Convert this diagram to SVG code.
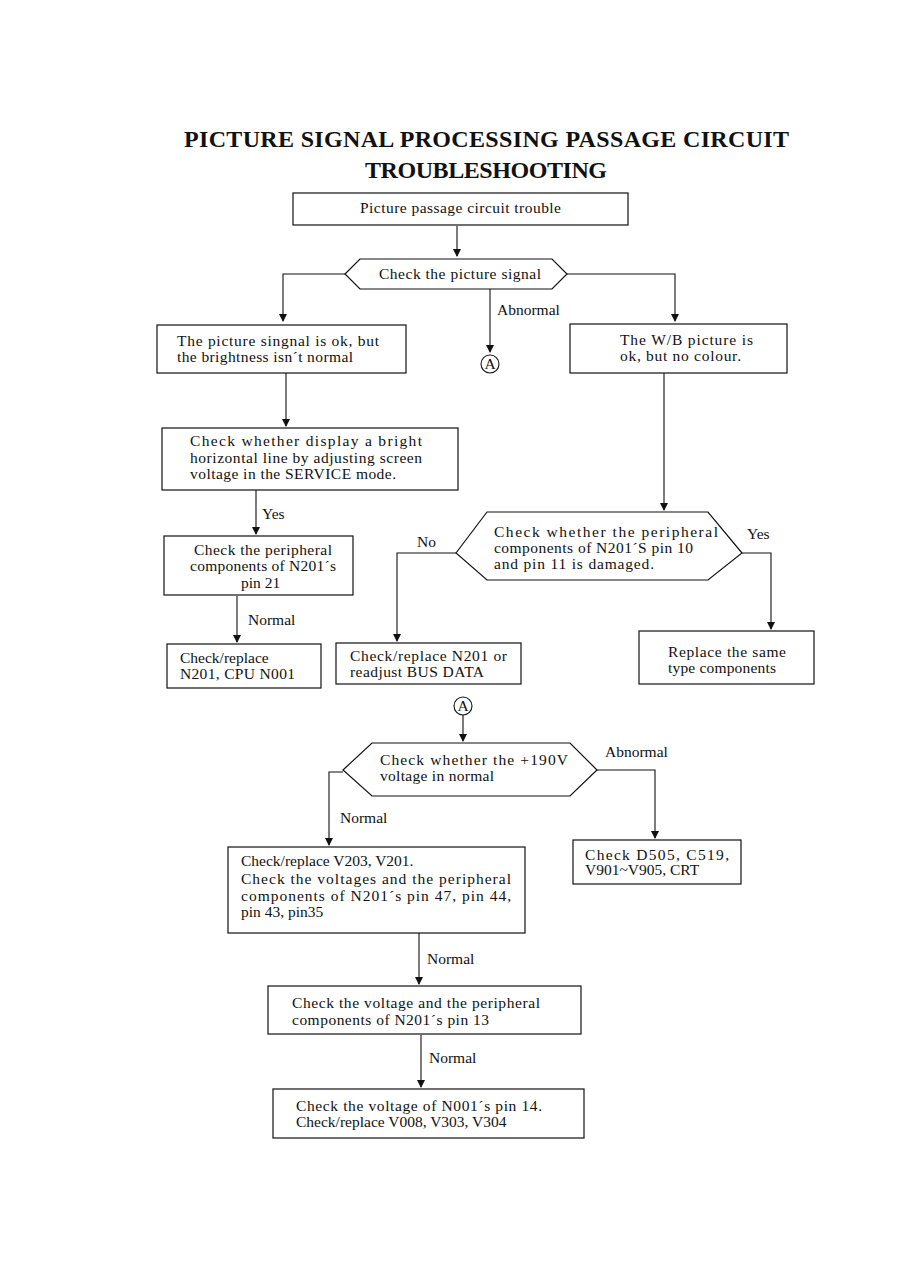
<svg xmlns="http://www.w3.org/2000/svg" width="899" height="1263" viewBox="0 0 899 1263">
<defs>
<style>
.t{font-family:"Liberation Serif","Times New Roman",serif;font-size:15.5px;fill:#111}
.h{font-family:"Liberation Serif","Times New Roman",serif;font-size:24px;font-weight:bold;fill:#111}
.b{fill:#fff;stroke:#111;stroke-width:1.2}
.c{fill:none;stroke:#111;stroke-width:1.1}
.ah{fill:#111}
</style>
</defs>
<rect width="899" height="1263" fill="#fff"/>
<g id="title">
<text class="h" x="184" y="147" textLength="605" lengthAdjust="spacing">PICTURE SIGNAL PROCESSING PASSAGE CIRCUIT</text>
<text class="h" x="365" y="178" textLength="242" lengthAdjust="spacing">TROUBLESHOOTING</text>
</g>
<g id="connectors">
<path class="c" d="M457,226 V256"/>
<path class="ah" d="M453,249 L461,249 L457,257 Z"/>
<path class="c" d="M345,274 H283 V321"/>
<path class="ah" d="M279,314 L287,314 L283,322 Z"/>
<path class="c" d="M567,274 H675 V321"/>
<path class="ah" d="M671,314 L679,314 L675,322 Z"/>
<path class="c" d="M490,289 V352"/>
<path class="ah" d="M486,345 L494,345 L490,353 Z"/>
<text class="t" x="497" y="315">Abnormal</text>
<path class="c" d="M286,373 V426"/>
<path class="ah" d="M282,419 L290,419 L286,427 Z"/>
<path class="c" d="M664,373 V510"/>
<path class="ah" d="M660,503 L668,503 L664,511 Z"/>
<path class="c" d="M256,490 V534"/>
<path class="ah" d="M252,527 L260,527 L256,535 Z"/>
<text class="t" x="262" y="519">Yes</text>
<path class="c" d="M237,596 V642"/>
<path class="ah" d="M233,635 L241,635 L237,643 Z"/>
<text class="t" x="248" y="625">Normal</text>
<path class="c" d="M456,553 H397 V641"/>
<path class="ah" d="M393,634 L401,634 L397,642 Z"/>
<text class="t" x="417" y="547">No</text>
<path class="c" d="M742,553 H771 V629"/>
<path class="ah" d="M767,622 L775,622 L771,630 Z"/>
<text class="t" x="747" y="539">Yes</text>
<path class="c" d="M463,715 V741"/>
<path class="ah" d="M459,734 L467,734 L463,742 Z"/>
<path class="c" d="M343,772 H329 V845"/>
<path class="ah" d="M325,838 L333,838 L329,846 Z"/>
<text class="t" x="340" y="823">Normal</text>
<path class="c" d="M597,770 H655 V838"/>
<path class="ah" d="M651,831 L659,831 L655,839 Z"/>
<text class="t" x="605" y="757">Abnormal</text>
<path class="c" d="M419,933 V984"/>
<path class="ah" d="M415,977 L423,977 L419,985 Z"/>
<text class="t" x="427" y="964">Normal</text>
<path class="c" d="M421,1035 V1087"/>
<path class="ah" d="M417,1080 L425,1080 L421,1088 Z"/>
<text class="t" x="429" y="1063">Normal</text>
</g>
<g id="n1">
<rect class="b" x="293" y="193" width="335" height="32"/>
<text class="t" x="360" y="213" textLength="201" lengthAdjust="spacing">Picture passage circuit trouble</text>
</g>
<g id="n2">
<polygon class="b" points="345,274 360,259 552,259 567,274 552,289 360,289"/>
<text class="t" x="379" y="279" textLength="162" lengthAdjust="spacing">Check the picture signal</text>
</g>
<g id="connA1">
<circle cx="490" cy="364" r="9" fill="#fff" stroke="#111" stroke-width="1.1"/>
<text class="t" x="490" y="369" text-anchor="middle" font-size="13">A</text>
</g>
<g id="n3">
<rect class="b" x="157" y="325" width="249" height="48"/>
<text class="t" x="177" y="346" textLength="202" lengthAdjust="spacing">The picture singnal is ok, but</text>
<text class="t" x="177" y="362" textLength="176" lengthAdjust="spacing">the brightness isn´t normal</text>
</g>
<g id="n4">
<rect class="b" x="570" y="324" width="217" height="49"/>
<text class="t" x="620" y="345" textLength="133" lengthAdjust="spacing">The W/B picture is</text>
<text class="t" x="620" y="361" textLength="121" lengthAdjust="spacing">ok, but no colour.</text>
</g>
<g id="n5">
<rect class="b" x="162" y="428" width="296" height="62"/>
<text class="t" x="190" y="446" textLength="232" lengthAdjust="spacing">Check whether display a bright</text>
<text class="t" x="190" y="463" textLength="232" lengthAdjust="spacing">horizontal line by adjusting screen</text>
<text class="t" x="190" y="479" textLength="206" lengthAdjust="spacing">voltage in the SERVICE mode.</text>
</g>
<g id="n6">
<rect class="b" x="164" y="536" width="189" height="59"/>
<text class="t" x="194" y="555" textLength="138" lengthAdjust="spacing">Check the peripheral</text>
<text class="t" x="190" y="571" textLength="146" lengthAdjust="spacing">components of N201´s</text>
<text class="t" x="241" y="588">pin 21</text>
</g>
<g id="n7">
<rect class="b" x="167" y="644" width="154" height="44"/>
<text class="t" x="180" y="663">Check/replace</text>
<text class="t" x="180" y="679" textLength="115" lengthAdjust="spacing">N201, CPU N001</text>
</g>
<g id="n8">
<polygon class="b" points="456,553 487,512 708,512 742,553 708,580 487,580"/>
<text class="t" x="494" y="537" textLength="224" lengthAdjust="spacing">Check whether the peripheral</text>
<text class="t" x="494" y="553" textLength="199" lengthAdjust="spacing">components of N201´S pin 10</text>
<text class="t" x="494" y="569" textLength="160" lengthAdjust="spacing">and pin 11 is damaged.</text>
</g>
<g id="n9">
<rect class="b" x="336" y="643" width="185" height="41"/>
<text class="t" x="350" y="661" textLength="157" lengthAdjust="spacing">Check/replace N201 or</text>
<text class="t" x="350" y="677" textLength="134" lengthAdjust="spacing">readjust BUS DATA</text>
</g>
<g id="n10">
<rect class="b" x="639" y="631" width="175" height="53"/>
<text class="t" x="668" y="657" textLength="118" lengthAdjust="spacing">Replace the same</text>
<text class="t" x="668" y="673" textLength="108" lengthAdjust="spacing">type components</text>
</g>
<g id="connA2">
<circle cx="463" cy="706" r="9" fill="#fff" stroke="#111" stroke-width="1.1"/>
<text class="t" x="463" y="711" text-anchor="middle" font-size="13">A</text>
</g>
<g id="n11">
<polygon class="b" points="343,770 372,743 570,743 597,770 570,796 372,796"/>
<text class="t" x="380" y="765" textLength="188" lengthAdjust="spacing">Check whether the +190V</text>
<text class="t" x="380" y="781" textLength="114" lengthAdjust="spacing">voltage in normal</text>
</g>
<g id="n12">
<rect class="b" x="573" y="840" width="168" height="44"/>
<text class="t" x="585" y="860" textLength="144" lengthAdjust="spacing">Check D505,  C519,</text>
<text class="t" x="585" y="875">V901~V905, CRT</text>
</g>
<g id="n13">
<rect class="b" x="228" y="847" width="297" height="86"/>
<text class="t" x="241" y="866">Check/replace V203, V201.</text>
<text class="t" x="241" y="884" textLength="270" lengthAdjust="spacing">Check the voltages and the peripheral</text>
<text class="t" x="241" y="901" textLength="270" lengthAdjust="spacing">components of N201´s pin 47,  pin 44,</text>
<text class="t" x="241" y="917">pin 43, pin35</text>
</g>
<g id="n14">
<rect class="b" x="268" y="986" width="313" height="48"/>
<text class="t" x="292" y="1008" textLength="248" lengthAdjust="spacing">Check the voltage and the peripheral</text>
<text class="t" x="292" y="1025" textLength="197" lengthAdjust="spacing">components of N201´s pin 13</text>
</g>
<g id="n15">
<rect class="b" x="273" y="1089" width="311" height="49"/>
<text class="t" x="296" y="1111" textLength="246" lengthAdjust="spacing">Check the voltage of N001´s pin 14.</text>
<text class="t" x="296" y="1127">Check/replace V008, V303, V304</text>
</g>
</svg>
